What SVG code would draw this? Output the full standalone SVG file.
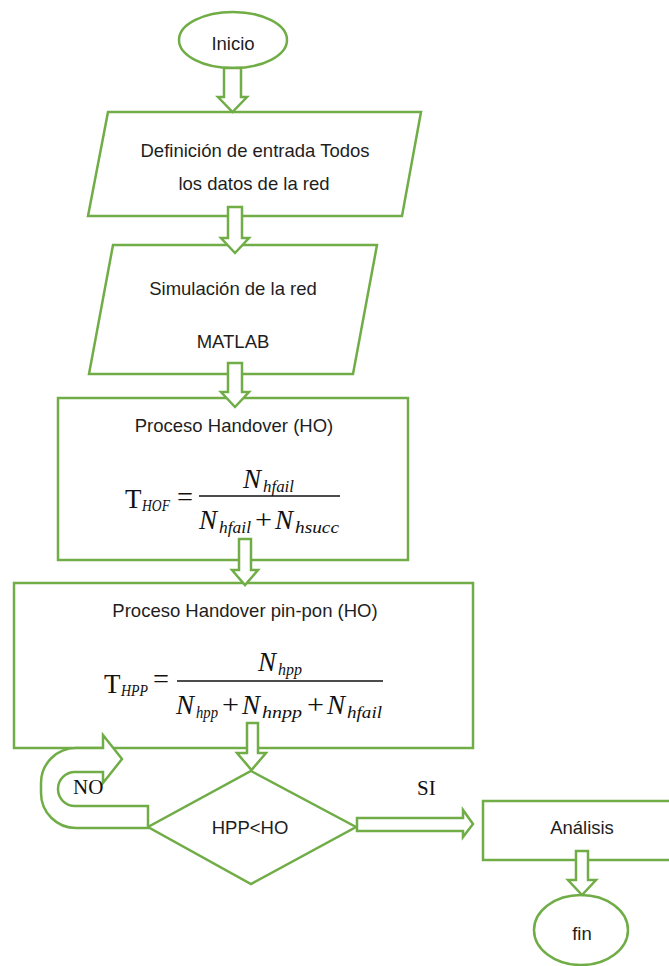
<svg xmlns="http://www.w3.org/2000/svg" width="669" height="966" viewBox="0 0 669 966">
<style>
.n{fill:#fff;stroke:#70AD47;stroke-width:2.5}
.c{fill:#fff;stroke:#70AD47;stroke-width:2.5;stroke-linejoin:miter}
.t{font-family:"Liberation Sans",Arial,sans-serif;font-size:18.5px;fill:#1e1e1e;text-anchor:middle}
.s{font-family:"Liberation Serif","Times New Roman",serif;font-size:21px;fill:#111}
.m{font-family:"Liberation Serif","Times New Roman",serif;font-size:27px;fill:#111}
.mi{font-family:"Liberation Serif","Times New Roman",serif;font-size:27px;font-style:italic;fill:#111}
.sub{font-family:"Liberation Serif","Times New Roman",serif;font-size:17px;font-style:italic;fill:#111}
</style>
<rect width="669" height="966" fill="#fff"/>
<g id="inicio">
<ellipse class="n" cx="233" cy="40" rx="54" ry="28"/>
<text class="t" x="233" y="50">Inicio</text>
</g>
<g id="definicion">
<polygon class="n" points="108,112 421,112 402,216 88,216"/>
<text class="t" x="255" y="157">Definición de entrada Todos</text>
<text class="t" x="254" y="190">los datos de la red</text>
</g>
<g id="simulacion">
<polygon class="n" points="113,245 377,245 353,374 89,374"/>
<text class="t" x="233" y="295">Simulación de la red</text>
<text class="t" x="233" y="348">MATLAB</text>
</g>
<g id="handover">
<rect class="n" x="58" y="398" width="350" height="162"/>
<text class="t" x="234" y="432">Proceso Handover (HO)</text>
<text class="m" x="125" y="508">T</text>
<text class="sub" x="142" y="511" textLength="28" lengthAdjust="spacingAndGlyphs">HOF</text>
<text class="m" x="177" y="506" textLength="16" lengthAdjust="spacingAndGlyphs">=</text>
<line x1="199" y1="496" x2="340" y2="496" stroke="#111" stroke-width="1.3"/>
<text class="mi" x="243" y="488">N</text>
<text class="sub" x="263" y="492" textLength="31" lengthAdjust="spacingAndGlyphs">hfail</text>
<text class="mi" x="199" y="529">N</text>
<text class="sub" x="219" y="533" textLength="32" lengthAdjust="spacingAndGlyphs">hfail</text>
<text class="m" x="255" y="529" textLength="17" lengthAdjust="spacingAndGlyphs">+</text>
<text class="mi" x="275" y="529">N</text>
<text class="sub" x="295" y="533" textLength="44" lengthAdjust="spacingAndGlyphs">hsucc</text>
</g>
<g id="pinpon">
<rect class="n" x="14" y="583" width="459" height="165"/>
<text class="t" x="245" y="617">Proceso Handover pin-pon (HO)</text>
<text class="m" x="104" y="693">T</text>
<text class="sub" x="121" y="696" textLength="27" lengthAdjust="spacingAndGlyphs">HPP</text>
<text class="m" x="153" y="688" textLength="16" lengthAdjust="spacingAndGlyphs">=</text>
<line x1="177" y1="681" x2="383" y2="681" stroke="#111" stroke-width="1.3"/>
<text class="mi" x="258" y="671">N</text>
<text class="sub" x="278" y="675" textLength="24" lengthAdjust="spacingAndGlyphs">hpp</text>
<text class="mi" x="176" y="714">N</text>
<text class="sub" x="196" y="718" textLength="22" lengthAdjust="spacingAndGlyphs">hpp</text>
<text class="m" x="222" y="714" textLength="17" lengthAdjust="spacingAndGlyphs">+</text>
<text class="mi" x="242" y="714">N</text>
<text class="sub" x="262" y="718" textLength="40" lengthAdjust="spacingAndGlyphs">hnpp</text>
<text class="m" x="307" y="714" textLength="17" lengthAdjust="spacingAndGlyphs">+</text>
<text class="mi" x="327" y="714">N</text>
<text class="sub" x="347" y="718" textLength="35" lengthAdjust="spacingAndGlyphs">hfail</text>
</g>
<g id="decision">
<polygon class="n" points="251,771 356,827 251,884 148,827"/>
<text class="t" x="250" y="834">HPP&lt;HO</text>
</g>
<g id="analisis">
<rect class="n" x="483" y="801" width="200" height="59"/>
<text class="t" x="582" y="834">Análisis</text>
</g>
<g id="fin">
<ellipse class="n" cx="581" cy="930" rx="47" ry="35"/>
<text class="t" x="582" y="940">fin</text>
</g>
<g id="connectors">
<polygon class="c" points="224,68 241,68 241,97 247,97 232.5,112 218,97 224,97"/>
<polygon class="c" points="228,207 242,207 242,238 249,238 235,253 221,238 228,238"/>
<polygon class="c" points="228,363 242,363 242,392 249,392 235,407 221,392 228,392"/>
<polygon class="c" points="239,539 251,539 251,570 258,570 245,585 232,570 239,570"/>
<polygon class="c" points="247,723 258,723 258,753 266,753 251.5,770 237,753 247,753"/>
<polygon class="c" points="576,851 588,851 588,880 596,880 582,895 568,880 576,880"/>
<polygon class="c" points="357,818 463,818 463,810 473,824 463,837 463,831 357,831"/>
<path class="c" d="M148,828 L76,828 A35,35 0 0 1 41,793 L41,783 A35,35 0 0 1 76,748 L103,748 L103,735 L122,759 L103,783 L103,772 L75,772 A17,17 0 0 0 75,806 L148,806 Z"/>
<text class="s" x="73" y="794">NO</text>
<text class="s" x="417" y="795">SI</text>
</g>
</svg>
